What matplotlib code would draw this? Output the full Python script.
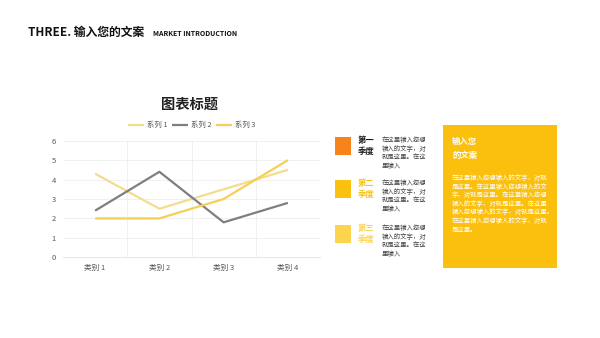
import matplotlib.pyplot as plt
import numpy as np
from matplotlib.patches import Rectangle

plt.rcParams['font.family'] = ['Noto Sans CJK SC', 'DejaVu Sans']

# data
categories = ['类别 1', '类别 2', '类别 3', '类别 4']
series_names = ['系列 1', '系列 2', '系列 3']
series1 = [4.3, 2.5, 3.5, 4.5]
series2 = [2.4, 4.4, 1.8, 2.8]
series3 = [2.0, 2.0, 3.0, 5.0]
colors = ['#F4DC8E', '#7F7F7F', '#F6CF55']

quarters = ['第一\n季度', '第二\n季度', '第三\n季度']
quarter_colors = ['#F7841A', '#FBC111', '#FDD44E']
quarter_label_colors = ['#1A1A1A', '#FBC111', '#FDD44E']
small_text = '在这里输入您想\n输入的文字，对\n就是这里。在这\n里输入'
box_body = ('在这里输入您想输入的文字，对就\n是这里。在这里输入您想输入的文\n'
            '字，对就是这里。在这里输入您想\n输入的文字，对就是这里。在这里\n'
            '输入您想输入的文字，对就是这里。\n在这里输入您想输入的文字，对就\n是这里。')

W, H = 600, 338
fig = plt.figure(figsize=(6, 3.38), dpi=100)
fig.patch.set_facecolor('white')

# overlay axes in pixel coordinates
bg = fig.add_axes([0, 0, 1, 1])
bg.set_xlim(0, W)
bg.set_ylim(H, 0)
bg.axis('off')

# header
bg.text(28, 32, 'THREE. 输入您的文案', fontsize=8.5, fontweight='bold', va='center', color='#111111')
bg.text(153, 33, 'MARKET INTRODUCTION', fontsize=5, fontweight='bold', va='center', color='#111111')

# chart title
bg.text(189, 105, '图表标题', fontsize=10.3, fontweight='bold', ha='center', va='center', color='#222222')

# chart
ax = fig.add_axes([63 / W, (H - 257.3) / H, 257 / W, 116.6 / H])
x = np.arange(len(categories))
for vals, name, c in zip([series1, series2, series3], series_names, colors):
    ax.plot(x, vals, color=c, lw=1.6, label=name, solid_capstyle='butt')
ax.set_xlim(-0.5, 3.5)
ax.set_ylim(0, 6)
ax.set_yticks(range(7))
ax.set_xticks(x)
ax.set_xticklabels(categories)
ax.set_xticks([0.5, 1.5, 2.5], minor=True)
ax.grid(axis='y', color='#EEEEEE', lw=0.6)
ax.grid(axis='x', which='minor', color='#EEEEEE', lw=0.6)
for s in ['top', 'right', 'left']:
    ax.spines[s].set_visible(False)
ax.spines['bottom'].set_color('#E0E0E0')
ax.spines['bottom'].set_linewidth(0.6)
ax.tick_params(length=0, labelsize=5.5, colors='#595959', pad=5)
ax.tick_params(which='minor', length=0)
ax.set_axisbelow(True)
ax.legend(loc='lower center', bbox_to_anchor=(0.5, 1.04), ncol=3, frameon=False,
          fontsize=5.3, handlelength=2.2, handletextpad=0.4, columnspacing=0.6,
          labelcolor='#595959')

# quarter blocks
ys = [137, 180, 225]
for y, q, c, lc in zip(ys, quarters, quarter_colors, quarter_label_colors):
    bg.add_patch(Rectangle((335, y), 16, 18, color=c, lw=0))
    bg.text(358, y + 9, q, fontsize=6, fontweight='bold', color=lc, va='center',
            linespacing=1.25)
    bg.text(382, y - 1, small_text, fontsize=4.6, color='#444444', va='top', linespacing=1.1)

# yellow box
bg.add_patch(Rectangle((443, 125), 114, 143, color='#FBBF0E', lw=0))
bg.text(452, 148.5, '输入您\n的文案', fontsize=6, fontweight='bold', color='white',
        va='center', linespacing=1.6)
bg.text(452, 174, box_body, fontsize=4.6, color='white', va='top', linespacing=1.1)

fig.savefig('out.png', dpi=100, facecolor='white')
